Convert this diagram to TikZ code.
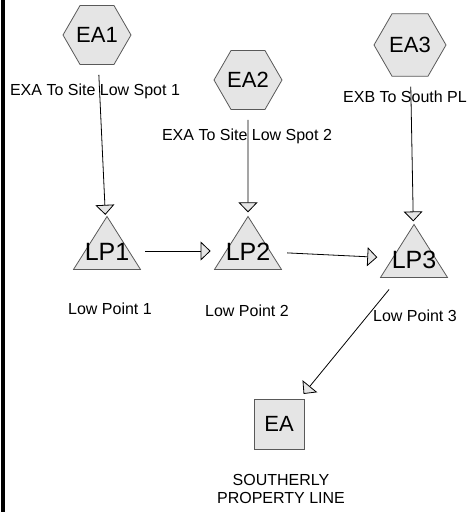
\documentclass[tikz,border=0pt]{standalone}
\usepackage{fontspec}
\setmainfont{Liberation Sans}
\usetikzlibrary{shapes.geometric,arrows.meta}
\newcommand\lptext[1]{\smash{\makebox[0pt]{\raisebox{-9pt}{#1}}}}
\begin{document}
\begin{tikzpicture}[x=1pt,y=-1pt,line width=0.8pt,>={Triangle[length=10pt,width=19pt,fill=gray!20]},
		hexa/.style={regular polygon,regular polygon sides=6,minimum size=68pt,inner sep=0pt,draw=gray!70!black,fill=gray!20,font=\fontsize{22}{24}\selectfont},
		tri/.style={isosceles triangle,isosceles triangle stretches,shape border rotate=90,minimum width=67pt,minimum height=53pt,inner sep=0pt,draw=gray!70!black,fill=gray!20,font=\fontsize{25}{28}\selectfont},
		outbox/.style={rectangle,minimum size=50pt,inner sep=0pt,draw=gray!70!black,fill=gray!20,font=\fontsize{22}{24}\selectfont},
		lbl/.style={inner sep=0pt,anchor=base,font=\fontsize{16}{18}\selectfont}]
		\useasboundingbox (0,0) rectangle (471,512);
		\fill[black] (1,0) rectangle (5,512);
		\node[hexa] (EA1) at (97,35) {EA1};
		\node[hexa] (EA2) at (248,80) {EA2};
		\node[hexa,minimum size=72pt] (EA3) at (410,45) {EA3};
		\node[tri] (LP1) at (107,251) {\lptext{LP1}};
		\node[tri] (LP2) at (248,251) {\lptext{LP2}};
		\node[tri] (LP3) at (414,259) {\lptext{LP3}};
		\node[outbox] (EA) at (279,424) {EA};
		\node[lbl] (l1) at (95,95) {EXA To Site Low Spot 1};
		\node[lbl] (l2) at (247,140) {EXA To Site Low Spot 2};
		\node[lbl] (l3) at (405,102) {EXB To South PL};
		\node[lbl] (p1) at (110,314) {Low Point 1};
		\node[lbl] (p2) at (247,316) {Low Point 2};
		\node[lbl] (p3) at (415,321) {Low Point 3};
		\node[lbl,anchor=north,align=center] (s) at (281,473.5) {SOUTHERLY\\PROPERTY LINE};
		\foreach \a/\b in {EA1/LP1,EA2/LP2,EA3/LP3}\draw[->,shorten <=10pt,shorten >=3pt] (\a) -- (\b);
		\foreach \a/\b in {LP1/LP2,LP2/LP3}\draw[->,shorten <=16pt,shorten >=15pt] (\a) -- (\b);
		\draw[->,shorten <=15pt,shorten >=6pt] (LP3) -- (EA);
\end{tikzpicture}
\end{document}
